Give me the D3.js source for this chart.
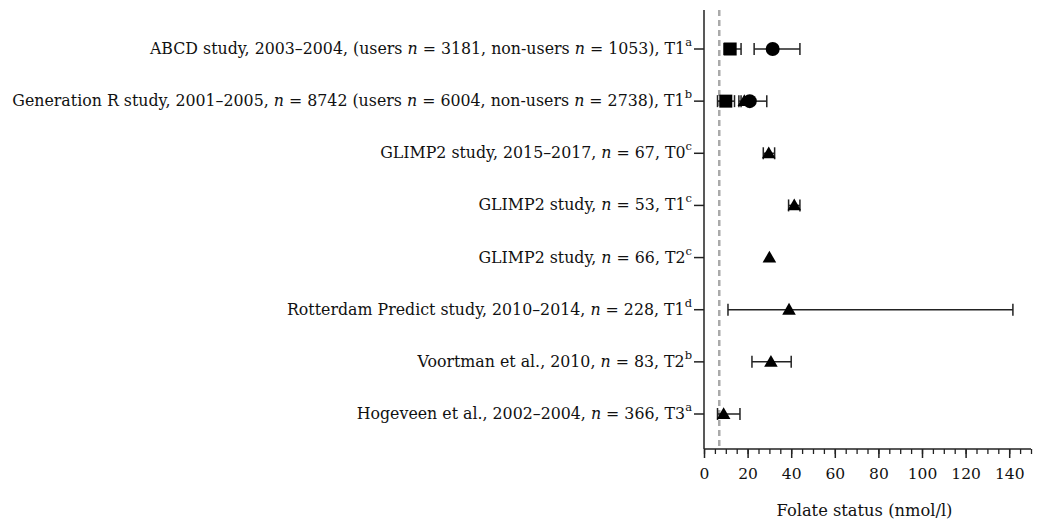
<!DOCTYPE html>
<html>
<head>
<meta charset="utf-8">
<script src="https://cdn.jsdelivr.net/npm/d3@7"></script>
<style>
  body { margin: 0; background: #fff; }
  text { font-family: "DejaVu Serif", "Liberation Serif", serif; fill: #111; }
</style>
</head>
<body>
<div id="container"></div>
<script>
/* DATA */
const studies = [
  "ABCD study, 2003–2004, (users n = 3181, non-users n = 1053), T1",
  "Generation R study, 2001–2005, n = 8742 (users n = 6004, non-users n = 2738), T1",
  "GLIMP2 study, 2015–2017, n = 67, T0",
  "GLIMP2 study, n = 53, T1",
  "GLIMP2 study, n = 66, T2",
  "Rotterdam Predict study, 2010–2014, n = 228, T1",
  "Voortman et al., 2010, n = 83, T2",
  "Hogeveen et al., 2002–2004, n = 366, T3"
];
const notes = ["a", "b", "c", "c", "c", "d", "b", "a"];

// square = non-users, circle = users, triangle = total
const squares = [
  { study: 0, value: 12, low: 9.2, high: 17 },
  { study: 1, value: 10, low: 6.2, high: 14 }
];
const circles = [
  { study: 0, value: 31.5, low: 23, high: 44 },
  { study: 1, value: 21, low: 16, high: 28.8 }
];
const triangles = [
  { study: 1, value: 18.5, low: 17, high: 20 },
  { study: 2, value: 29.7, low: 27.2, high: 32.4 },
  { study: 3, value: 41.4, low: 38.8, high: 44 },
  { study: 4, value: 30, low: 30, high: 30 },
  { study: 5, value: 39, low: 11, high: 141.7 },
  { study: 6, value: 30.7, low: 22, high: 40 },
  { study: 7, value: 9, low: 6.2, high: 16.5 }
];
const cutoff = 7;
const xTicks = [0, 20, 40, 60, 80, 100, 120, 140];

/* LAYOUT */
const width = 1042, height = 523;
const axisX = 704, axisTop = 10, axisBottom = 449;

const svg = d3.select("#container")
  .append("svg")
  .attr("width", width)
  .attr("height", height);

const xScale = d3.scaleLinear()
  .domain([0, 150])
  .range([axisX, 1031]);

const yScale = d3.scalePoint()
  .domain(d3.range(studies.length))
  .range([49, 414]);

// x axis with minor ticks every 5
svg.append("g")
  .attr("transform", `translate(0, ${axisBottom})`)
  .call(d3.axisBottom(xScale).tickValues(d3.range(0, 151, 5)).tickSize(5).tickFormat(""))
  .call(g => g.select(".domain").remove())
  .call(g => g.selectAll("line").attr("stroke", "#222").attr("stroke-width", 1.3));

svg.append("g")
  .attr("transform", `translate(0, ${axisBottom})`)
  .call(d3.axisBottom(xScale).tickValues(xTicks).tickSize(9).tickSizeOuter(0).tickPadding(10))
  .call(g => g.select(".domain").attr("stroke", "#222").attr("stroke-width", 1.5)
    .attr("d", `M${axisX},0H${xScale(150)}`))
  .call(g => g.selectAll("line").attr("stroke", "#222").attr("stroke-width", 1.5))
  .call(g => g.selectAll("text")
    .attr("font-family", "DejaVu Serif, serif")
    .attr("font-size", 15.5)
    .attr("fill", "#111"));

svg.append("text")
  .attr("x", xScale(75) - 3)
  .attr("y", 516)
  .attr("text-anchor", "middle")
  .attr("font-size", 16.3)
  .text("Folate status (nmol/l)");

// y axis
svg.append("line")
  .attr("x1", axisX).attr("x2", axisX)
  .attr("y1", axisTop).attr("y2", axisBottom)
  .attr("stroke", "#222").attr("stroke-width", 1.5);

svg.selectAll("line.ytick")
  .data(studies)
  .join("line")
  .attr("class", "ytick")
  .attr("x1", axisX - 10).attr("x2", axisX)
  .attr("y1", (d, i) => yScale(i)).attr("y2", (d, i) => yScale(i))
  .attr("stroke", "#222").attr("stroke-width", 1.5);

// labels with italic n and superscript note
const labels = svg.selectAll("text.ylabel")
  .data(studies)
  .join("text")
  .attr("class", "ylabel")
  .attr("x", axisX - 12)
  .attr("y", (d, i) => yScale(i) + 5)
  .attr("text-anchor", "end")
  .attr("font-size", 15.8);

labels.each(function(d, i) {
  const t = d3.select(this);
  d.split(/(\bn\b)/).forEach(part => {
    t.append("tspan")
      .attr("font-style", part === "n" ? "italic" : null)
      .text(part);
  });
  t.append("tspan")
    .attr("font-size", 11.5)
    .attr("dy", -8)
    .text(notes[i]);
});

// dashed cut-off line
svg.append("line")
  .attr("x1", xScale(cutoff)).attr("x2", xScale(cutoff))
  .attr("y1", axisTop).attr("y2", axisBottom)
  .attr("stroke", "#aaa")
  .attr("stroke-width", 2.5)
  .attr("stroke-dasharray", "6,4");

// error bars
function errorBars(data, cls) {
  const g = svg.append("g").attr("class", cls);
  g.selectAll("line.bar")
    .data(data.filter(d => d.high > d.low))
    .join("line")
    .attr("class", "bar")
    .attr("x1", d => xScale(d.low)).attr("x2", d => xScale(d.high))
    .attr("y1", d => yScale(d.study)).attr("y2", d => yScale(d.study))
    .attr("stroke", "#222").attr("stroke-width", 1.5);
  ["low", "high"].forEach(k => {
    g.selectAll("line.cap-" + k)
      .data(data.filter(d => d.high > d.low))
      .join("line")
      .attr("class", "cap-" + k)
      .attr("x1", d => xScale(d[k])).attr("x2", d => xScale(d[k]))
      .attr("y1", d => yScale(d.study) - 6).attr("y2", d => yScale(d.study) + 6)
      .attr("stroke", "#222").attr("stroke-width", 1.5);
  });
}
errorBars(squares, "sq-err");
errorBars(circles, "ci-err");
errorBars(triangles, "tr-err");

// markers
svg.selectAll("rect.square")
  .data(squares)
  .join("rect")
  .attr("class", "square")
  .attr("x", d => xScale(d.value) - 6.5)
  .attr("y", d => yScale(d.study) - 6.5)
  .attr("width", 13).attr("height", 13)
  .attr("fill", "#000");

svg.selectAll("circle.dot")
  .data(circles)
  .join("circle")
  .attr("class", "dot")
  .attr("cx", d => xScale(d.value))
  .attr("cy", d => yScale(d.study))
  .attr("r", 7)
  .attr("fill", "#000");

const tri = d3.symbol().type(d3.symbolTriangle).size(80);
svg.selectAll("path.tri")
  .data(triangles)
  .join("path")
  .attr("class", "tri")
  .attr("transform", d => `translate(${xScale(d.value)}, ${yScale(d.study) + 1})`)
  .attr("d", tri)
  .attr("fill", "#000");
</script>
</body>
</html>
